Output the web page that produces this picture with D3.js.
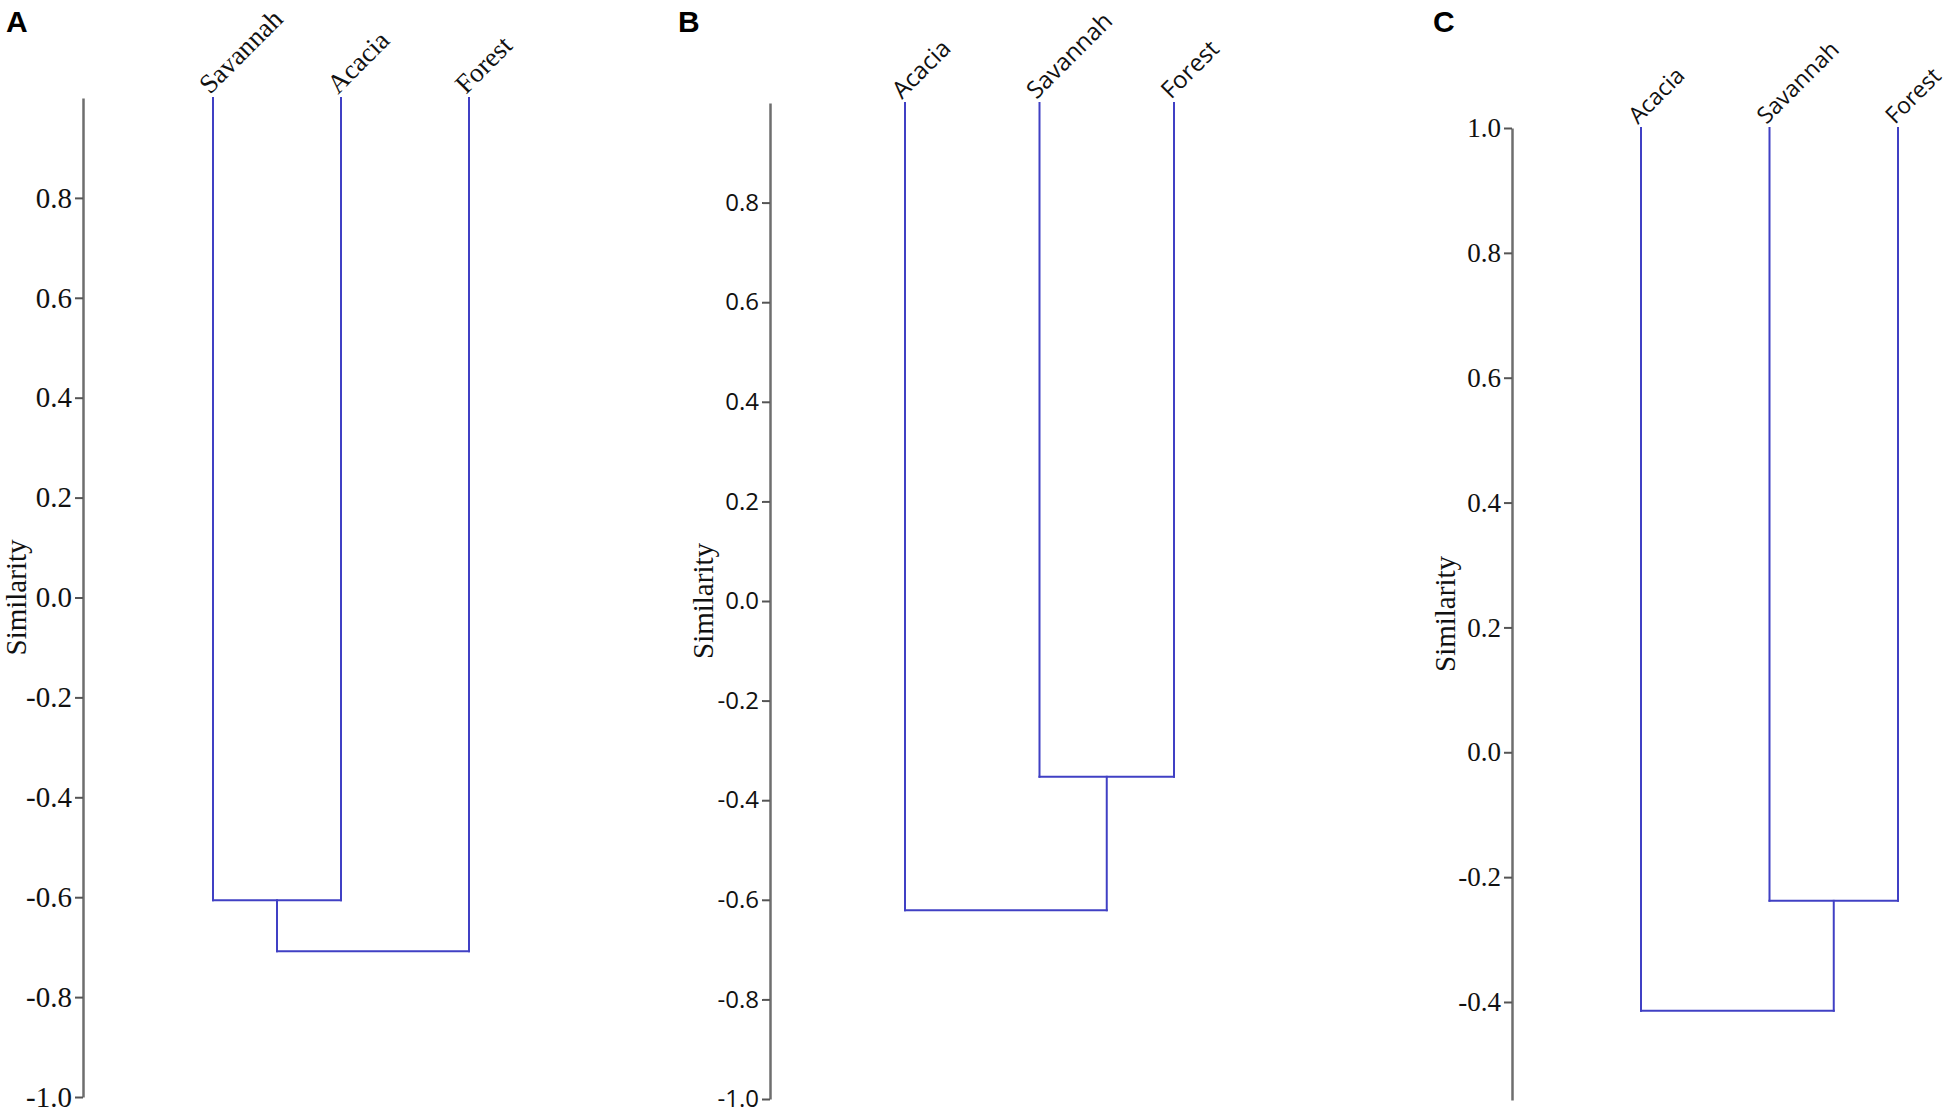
<!DOCTYPE html>
<html>
<head>
<meta charset="utf-8">
<script src="https://cdn.jsdelivr.net/npm/d3@7"></script>
<style>
  body { margin: 0; background: #fff; }
  svg { display: block; }
</style>
</head>
<body>
<div id="chart"></div>
<script>
var W = 1950, H = 1115;

// ---- data ----
var panelNames = ["A", "B", "C"];

var leavesA = ["Savannah", "Acacia", "Forest"];
var leavesB = ["Acacia", "Savannah", "Forest"];
var leavesC = ["Acacia", "Savannah", "Forest"];

// merges: [left node, right node, similarity]; nodes 0-2 are leaves, 3 is the first cluster
var mergesA = [[0, 1, -0.606], [3, 2, -0.708]];
var mergesB = [[1, 2, -0.353], [0, 3, -0.621]];
var mergesC = [[1, 2, -0.238], [0, 3, -0.414]];

var domainA = [-1, 1];
var domainB = [-1, 1];
var domainC = [-0.557, 1];

var ticksA = [-1.0, -0.8, -0.6, -0.4, -0.2, 0.0, 0.2, 0.4, 0.6, 0.8];
var ticksB = [-1.0, -0.8, -0.6, -0.4, -0.2, 0.0, 0.2, 0.4, 0.6, 0.8];
var ticksC = [-0.4, -0.2, 0.0, 0.2, 0.4, 0.6, 0.8, 1.0];

var serif = "'Liberation Serif', 'Times New Roman', serif";
var sans = "'Open Sans', 'Noto Sans', sans-serif";

// layout per panel
var panels = [
  { name: panelNames[0], leaves: leavesA, merges: mergesA, domain: domainA, ticks: ticksA,
    axisX: 83, yRange: [1097, 98], xRange: [213, 469], letterX: 6,
    tickFont: serif, tickSize: 29, leafFont: serif, leafSize: 27 },
  { name: panelNames[1], leaves: leavesB, merges: mergesB, domain: domainB, ticks: ticksB,
    axisX: 770, yRange: [1099, 103], xRange: [905, 1174], letterX: 678,
    tickFont: sans, tickSize: 24, leafFont: sans, leafSize: 24 },
  { name: panelNames[2], leaves: leavesC, merges: mergesC, domain: domainC, ticks: ticksC,
    axisX: 1512, yRange: [1100, 128], xRange: [1641, 1898], letterX: 1433,
    tickFont: serif, tickSize: 27, leafFont: sans, leafSize: 23 }
];

var svg = d3.select("#chart")
    .append("svg")
    .attr("width", W)
    .attr("height", H);

panels.forEach(function(p) {
  var g = svg.append("g");

  var y = d3.scaleLinear().domain(p.domain).range(p.yRange);
  var x = d3.scalePoint().domain(p.leaves).range(p.xRange);

  // panel letter
  g.append("text")
   .attr("x", p.letterX)
   .attr("y", 32)
   .style("font-family", "'Liberation Sans', Arial, sans-serif")
   .style("font-weight", "bold")
   .style("font-size", "30px")
   .text(p.name);

  // y axis
  var ax = g.append("g")
    .attr("transform", "translate(" + p.axisX + ",0)")
    .call(d3.axisLeft(y)
      .tickValues(p.ticks)
      .tickSize(8)
      .tickSizeOuter(0)
      .tickPadding(3)
      .tickFormat(function(d) { return d.toFixed(1); }));
  ax.select(".domain").attr("stroke", "#6e6e6e").attr("stroke-width", 2.5);
  ax.selectAll(".tick line").attr("stroke", "#555").attr("stroke-width", 2);
  ax.selectAll(".tick text")
    .attr("fill", "#111")
    .style("font-family", p.tickFont)
    .style("font-size", p.tickSize + "px");

  // axis title
  g.append("text")
   .attr("transform", "translate(" + (p.axisX - 57) + "," + ((p.yRange[0] + p.yRange[1]) / 2) + ") rotate(-90)")
   .attr("text-anchor", "middle")
   .style("font-family", serif)
   .style("font-size", "29px")
   .attr("fill", "#111")
   .text("Similarity");

  // node positions
  var top = y(p.domain[1]);
  var nodes = p.leaves.map(function(l) { return { x: x(l), h: p.domain[1] }; });
  var segs = [];
  p.merges.forEach(function(m) {
    var a = nodes[m[0]], b = nodes[m[1]];
    segs.push([a.x, y(a.h), a.x, y(m[2])]);
    segs.push([b.x, y(b.h), b.x, y(m[2])]);
    segs.push([a.x, y(m[2]), b.x, y(m[2])]);
    nodes.push({ x: (a.x + b.x) / 2, h: m[2] });
  });

  g.selectAll("line.link")
   .data(segs)
   .enter().append("line")
   .attr("class", "link")
   .attr("x1", function(d) { return d[0]; })
   .attr("y1", function(d) { return d[1]; })
   .attr("x2", function(d) { return d[2]; })
   .attr("y2", function(d) { return d[3]; })
   .attr("stroke", "#4040c4")
   .attr("stroke-width", 2)
   .attr("stroke-linecap", "square");

  // leaf labels
  g.selectAll("text.leaf")
   .data(p.leaves)
   .enter().append("text")
   .attr("class", "leaf")
   .attr("transform", function(d) { return "translate(" + (x(d) - 3) + "," + (top - 3) + ") rotate(-45)"; })
   .style("font-family", p.leafFont)
   .style("font-size", p.leafSize + "px")
   .attr("fill", "#111")
   .text(function(d) { return d; });
});
</script>
</body>
</html>
